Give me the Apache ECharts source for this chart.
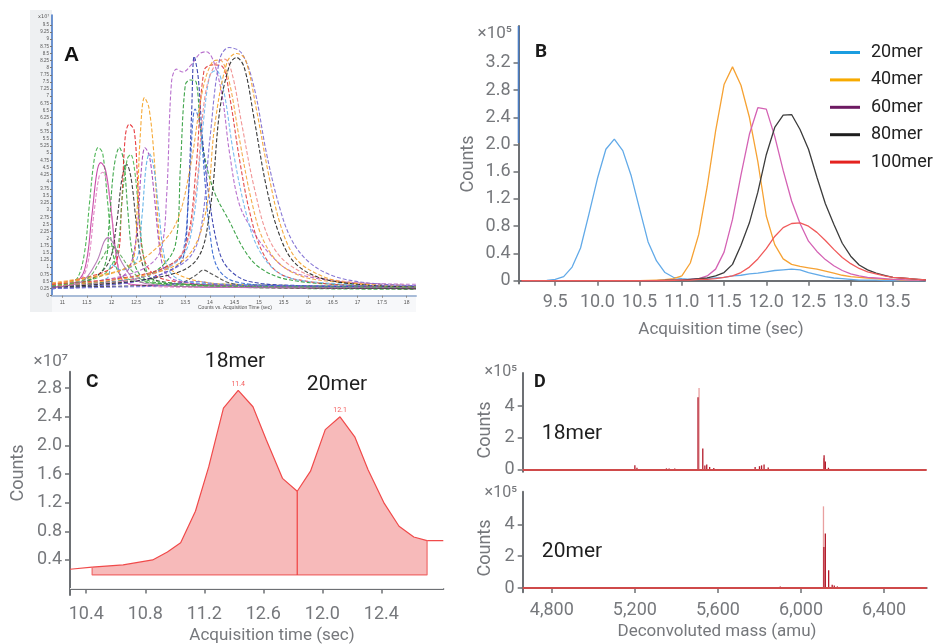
<!DOCTYPE html>
<html><head><meta charset="utf-8">
<script src="https://cdn.jsdelivr.net/npm/echarts@6/dist/echarts.min.js"></script>
<style>html,body{margin:0;padding:0;background:#fff}#c{width:933px;height:644px}</style>
</head><body><div id="c"></div>
<script>
// ---------- Panel A: overlaid chromatograms (x = time sec, y = counts x1e7) ----------
const aTicksX = [11,11.5,12,12.5,13,13.5,14,14.5,15,15.5,16,16.5,17,17.5,18];
const aTicksY = [0,0.25,0.5,0.75,1,1.25,1.5,1.75,2,2.25,2.5,2.75,3,3.25,3.5,3.75,4,4.25,4.5,4.75,5,5.25,5.5,5.75,6,6.25,6.5,6.75,7,7.25,7.5,7.75,8,8.25,8.5,8.75,9,9.25,9.5];
const a01 = [[10.79,0.35],[11.1,0.45],[11.3,0.6],[11.45,1.5],[11.55,3.2],[11.65,4.8],[11.73,5.2],[11.82,5.0],[11.92,3.3],[12.02,1.6],[12.15,0.8],[12.4,0.55],[12.8,0.45],[13.5,0.4],[14.5,0.3],[16,0.25],[18.19,0.22]];
const a02 = [[10.79,0.3],[11.2,0.4],[11.45,0.9],[11.6,2.8],[11.7,4.3],[11.78,4.67],[11.88,4.4],[11.98,3.2],[12.08,1.6],[12.2,0.6],[12.4,0.4],[13,0.35],[14,0.3],[18.19,0.25]];
const a03 = [[10.79,0.4],[11.3,0.5],[11.5,1.0],[11.65,3.0],[11.75,4.2],[11.82,4.33],[11.92,3.9],[12.02,2.6],[12.12,1.2],[12.25,0.5],[12.6,0.35],[13.5,0.3],[18.19,0.28]];
const a04 = [[10.79,0.3],[11.5,0.5],[11.85,1.0],[11.95,2.5],[12.05,4.5],[12.16,5.2],[12.25,4.7],[12.33,3.0],[12.42,1.5],[12.55,0.8],[12.8,0.5],[13.5,0.4],[18.19,0.3]];
const a05 = [[10.79,0.3],[11.6,0.6],[11.95,1.2],[12.1,2.5],[12.22,4.2],[12.31,4.6],[12.4,4.1],[12.5,2.6],[12.6,1.3],[12.75,0.7],[13,0.5],[14,0.35],[18.19,0.25]];
const a06 = [[10.79,0.4],[11.8,0.8],[12.1,1.2],[12.2,3.0],[12.28,5.6],[12.36,6.02],[12.46,5.8],[12.53,4.0],[12.58,2.3],[12.68,1.2],[12.9,0.7],[13.3,0.5],[14,0.4],[18.19,0.3]];
const a07 = [[10.79,0.35],[11.8,0.7],[12.1,1.5],[12.22,3.5],[12.32,4.8],[12.39,4.95],[12.47,4.4],[12.56,2.8],[12.66,1.3],[12.8,0.6],[13.2,0.45],[14,0.35],[18.19,0.3]];
const a08 = [[10.79,0.4],[11.5,0.6],[12.2,0.9],[12.45,1.3],[12.52,3.0],[12.58,5.5],[12.67,6.95],[12.76,6.6],[12.86,5.0],[12.95,2.5],[13.05,1.3],[13.3,0.8],[13.8,0.5],[14.5,0.4],[18.19,0.3]];
const a09 = [[10.79,0.3],[11.9,0.5],[12.3,0.8],[12.5,2.0],[12.6,4.3],[12.68,5.19],[12.77,4.9],[12.87,3.5],[12.97,1.8],[13.1,0.8],[13.4,0.5],[14.5,0.35],[18.19,0.3]];
const a10 = [[10.79,0.3],[11.9,0.6],[12.0,1.1],[12.2,0.9],[12.5,1.2],[12.62,2.8],[12.7,4.5],[12.77,4.99],[12.86,4.5],[12.96,3.0],[13.06,1.5],[13.2,0.8],[13.5,0.5],[14.5,0.4],[18.19,0.3]];
const a11 = [[10.79,0.3],[12.0,0.6],[12.7,1.0],[13.0,1.6],[13.12,3.5],[13.22,7.5],[13.32,7.95],[13.45,7.85],[13.62,8.1],[13.8,8.5],[13.93,8.56],[14.08,8.2],[14.25,7.0],[14.4,5.0],[14.6,3.2],[14.9,2.2],[15.2,1.5],[15.6,0.9],[16.2,0.6],[17,0.45],[18.19,0.4]];
const a12 = [[10.79,0.35],[12.5,0.6],[13.0,1.0],[13.3,1.8],[13.4,4.5],[13.5,7.4],[13.6,7.57],[13.72,7.5],[13.8,6.0],[13.9,4.8],[14.1,3.6],[14.4,2.6],[14.7,1.6],[15.0,1.0],[15.5,0.6],[16.5,0.4],[18.19,0.3]];
const a13 = [[10.79,0.25],[12.5,0.5],[13.2,0.9],[13.45,1.3],[13.55,3.0],[13.63,6.5],[13.68,8.4],[13.76,7.7],[13.85,5.5],[13.98,3.5],[14.15,1.8],[14.35,1.0],[14.8,0.5],[16,0.35],[18.19,0.3]];
const a14 = [[10.79,0.3],[12.5,0.6],[13.2,1.1],[13.45,1.5],[13.58,4.0],[13.7,6.55],[13.8,6.0],[13.9,4.0],[14.0,2.2],[14.15,1.0],[14.5,0.5],[15.5,0.35],[18.19,0.3]];
const a15 = [[10.79,0.4],[12.5,0.7],[13.3,1.2],[13.55,2.0],[13.72,4.5],[13.88,7.9],[14.05,8.1],[14.25,8.05],[14.4,7.0],[14.6,4.8],[14.8,3.0],[15.05,1.6],[15.4,0.8],[16,0.5],[17,0.35],[18.19,0.3]];
const a16 = [[10.79,0.3],[12.5,0.6],[13.4,1.3],[13.65,2.5],[13.85,5.8],[14.0,7.75],[14.13,7.9],[14.28,7.2],[14.48,5.0],[14.75,2.8],[15.0,1.6],[15.4,0.8],[16,0.5],[18.19,0.3]];
const a17 = [[10.79,0.45],[12.2,0.9],[12.8,1.5],[13.3,2.5],[13.6,4.5],[13.85,7.2],[14.05,8.2],[14.2,8.27],[14.38,7.6],[14.6,5.5],[14.85,3.3],[15.1,1.9],[15.5,1.0],[16.2,0.55],[18.19,0.35]];
const a18 = [[10.79,0.35],[12.5,0.6],[13.4,1.4],[13.7,3.5],[13.9,7.0],[14.1,8.1],[14.3,8.3],[14.45,7.8],[14.65,6.0],[14.9,3.8],[15.2,2.0],[15.6,1.1],[16.3,0.6],[18.19,0.35]];
const a19 = [[10.79,0.25],[12.5,0.5],[13.5,1.2],[13.8,2.2],[14.0,5.5],[14.2,8.3],[14.39,8.71],[14.65,8.5],[14.9,7.3],[15.15,5.0],[15.4,3.2],[15.65,2.0],[16.0,1.2],[16.5,0.7],[17.2,0.45],[18.19,0.35]];
const a20 = [[10.79,0.35],[12.6,0.7],[13.5,1.3],[13.9,2.8],[14.1,6.0],[14.35,8.2],[14.54,8.5],[14.72,8.3],[14.95,6.5],[15.2,4.2],[15.45,2.4],[15.75,1.3],[16.2,0.75],[16.8,0.45],[18.19,0.3]];
const a21 = [[10.79,0.3],[12.8,0.6],[13.7,1.2],[14.0,3.0],[14.2,6.5],[14.4,8.1],[14.54,8.36],[14.7,8.0],[14.9,6.2],[15.15,3.8],[15.4,2.2],[15.7,1.2],[16.2,0.65],[17,0.4],[18.19,0.3]];
const a22 = [[10.79,0.3],[12.5,0.35],[13.4,0.45],[13.7,0.7],[13.87,0.9],[14.05,0.75],[14.4,0.45],[15,0.3],[18.19,0.25]];
const a23 = [[10.79,0.3],[11.4,0.5],[11.7,1.2],[11.85,1.9],[11.93,2.04],[12.05,1.8],[12.2,1.2],[12.45,0.6],[12.8,0.4],[14,0.3],[18.19,0.28]];
const a24 = [[10.79,0.35],[11.5,0.6],[11.8,1.3],[12.0,1.75],[12.15,1.5],[12.4,0.9],[12.7,0.5],[13.5,0.35],[18.19,0.3]];
const a25 = [[10.79,0.25],[12.0,0.3],[13.0,0.35],[13.7,0.5],[14.2,0.4],[15,0.35],[18.19,0.35]];
const aCurves = [a01,a02,a03,a04,a05,a06,a07,a08,a09,a10,a11,a12,a13,a14,a15,a16,a17,a18,a19,a20,a21,a22,a23,a24,a25];
const aColors = ['#3cae45','#c2379f','#e07cc0','#2f9e3c','#333333','#e6262b','#4fb84f','#f5a020','#a040b8','#5aaee6','#b060c8','#2a9a36','#2a34a8','#3064d0','#e03838','#6cb6ee','#f2a43a','#f08a8a','#7a68d0','#f4a028','#222222','#444444','#b070b0','#58a858','#7070d8'];
const aSolid = [1,22];

// ---------- Panel B: extracted chromatograms (x1e5) ----------
const xB = [9.1,9.2,9.3,9.4,9.5,9.6,9.7,9.8,9.9,10.0,10.1,10.2,10.3,10.4,10.5,10.6,10.7,10.8,10.9,11.0,11.1,11.2,11.3,11.4,11.5,11.6,11.7,11.8,11.9,12.0,12.1,12.2,12.3,12.4,12.5,12.6,12.7,12.8,12.9,13.0,13.1,13.2,13.3,13.4,13.5,13.6,13.7,13.8,13.9];
const b20mer  = [0,0,0,0.005, 0.02,0.06,0.2,0.48,0.98,1.5, 1.93,2.08,1.91,1.54,1.05,0.57, 0.29,0.12,0.05,0.03,0.02,0.02, 0.03,0.04,0.05,0.07,0.08,0.1, 0.11,0.13,0.15,0.16,0.17,0.16, 0.12,0.09,0.06,0.04,0.03,0.02, 0.01,0.01,0.01,0,0,0, 0,0,0];
const b40mer  = [0,0,0,0, 0,0,0,0,0,0, 0,0,0,0,0,0.005, 0.01,0.015,0.03,0.07,0.26,0.68, 1.38,2.2,2.88,3.14,2.87,2.4, 1.75,0.95,0.53,0.32,0.24,0.21, 0.19,0.17,0.14,0.11,0.08,0.06, 0.05,0.04,0.03,0.02,0.02,0.01, 0.01,0.01,0.005];
const b60mer  = [0,0,0,0, 0,0,0,0,0,0, 0,0,0,0,0,0, 0,0.005,0.01,0.01,0.02,0.03, 0.07,0.17,0.42,0.9,1.55,2.15, 2.54,2.52,2.12,1.62,1.17,0.84, 0.58,0.43,0.31,0.22,0.15,0.1, 0.07,0.05,0.04,0.03,0.02,0.015, 0.01,0.01,0.005];
const b80mer  = [0,0,0,0, 0,0,0,0,0,0, 0,0,0,0,0,0, 0,0.005,0.01,0.01,0.02,0.03, 0.04,0.07,0.12,0.24,0.52,0.85, 1.3,1.85,2.25,2.43,2.44,2.22, 1.93,1.52,1.13,0.83,0.55,0.36, 0.23,0.16,0.11,0.08,0.05,0.04, 0.03,0.02,0.01];
const b100mer = [0,0,0,0, 0,0,0,0,0,0, 0,0,0,0,0,0, 0,0,0.005,0.01,0.01,0.02, 0.02,0.03,0.05,0.07,0.12,0.2, 0.32,0.47,0.65,0.78,0.84,0.85, 0.8,0.71,0.59,0.46,0.34,0.25, 0.18,0.13,0.1,0.07,0.05,0.04, 0.03,0.02,0.01];
const bNames = ['20mer','40mer','60mer','80mer','100mer'];
const bTicksX = [9.5,10.0,10.5,11.0,11.5,12.0,12.5,13.0,13.5];
const bTicksY = [0,0.4,0.8,1.2,1.6,2.0,2.4,2.8,3.2];

// ---------- Panel C: TIC with integrated peaks (x1e7) ----------
const cTime   = [10.44,10.65,10.85,10.95,11.04,11.14,11.23,11.33,11.43,11.53,11.62,11.73,11.83,11.92,12.02,12.12,12.22,12.31,12.42,12.52,12.62,12.71];
const cCounts = [0.30,0.33,0.40,0.51,0.64,1.08,1.70,2.52,2.77,2.54,2.08,1.54,1.36,1.64,2.22,2.40,2.12,1.66,1.19,0.87,0.72,0.67];
const cLeftTime = [10.29,10.44], cLeftCounts = [0.27,0.30];
const cRightTime = [12.71,12.82], cRightCounts = [0.67,0.67];
const cBaseline = 0.19;
const cValleyIndex = 12;
const cPeakIndex = [8,15];
const cPeakLabels = ['11.4','12.1'];
const cTickValues = [10.4,10.8,11.2,11.6,12.0,12.4];
const cTickLabels = ['10.4','10.8','11.2','12.6','12.0','12.4'];
const cTicksY = [0.4,0.8,1.2,1.6,2.0,2.4,2.8];

// ---------- Panel D: deconvoluted spectra (x1e5) ----------
const d18Mass = [5200,5210,5352,5365,5392,5504,5527,5537,5546,5560,5580,5779,5800,5810,5822,5842,6111,6117,6132];
const d18Int  = [0.26,0.1,0.06,0.05,0.05,4.57,1.32,0.25,0.3,0.15,0.08,0.15,0.2,0.25,0.3,0.12,0.89,0.5,0.1];
const d18LightMass = [5509,6109], d18LightInt = [5.15,0.7];
const d20Mass = [5900,5955,5975,5995,6060,6110,6117,6133,6150,6160,6175,6190,6425];
const d20Int  = [0.1,0.05,0.05,0.05,0.05,2.57,3.42,1.11,0.2,0.15,0.1,0.05,0.05];
const d20LightMass = [6108], d20LightInt = [5.13];
const dTicksX = [4800,5200,5600,6000,6400];
const dTicksY = [0,2,4];

// ---------- build ----------
const FONT = 'Roboto';
const GRAY = '#76787c';
const chart = echarts.init(document.getElementById('c'), null, {renderer:'canvas'});

const aSeries = aCurves.map((d,i)=>({
  type:'line', xAxisIndex:0, yAxisIndex:0, data:d, smooth:0.35, showSymbol:false, symbol:'none',
  lineStyle:{color:aColors[i], width:1.1, opacity:0.9, type: aSolid.includes(i) ? 'solid' : [4,2]}, silent:true
}));
const bColors = ['#62aae8','#f6a233','#d462b4','#3c3c3c','#f05a5a'];
const bLegendColors = ['#1b9de0','#f7aa00','#6d1a62','#1e1e1e','#e4221f'];
const bSeriesData = [b20mer,b40mer,b60mer,b80mer,b100mer];
const bSeries = bSeriesData.map((arr,i)=>({
  type:'line', name:bNames[i], xAxisIndex:1, yAxisIndex:1, data: xB.map((x,k)=>[x,arr[k]]),
  showSymbol:false, symbol:'none', lineStyle:{color:bColors[i], width:1.3}, itemStyle:{color:bLegendColors[i]}
}));

const last = cTime.length-1;
const cSeries = [
  {type:'line', xAxisIndex:2, yAxisIndex:2, data: cTime.map((t,i)=>[t,cCounts[i]]), showSymbol:false, symbol:'none',
   lineStyle:{color:'#f04a4a', width:1.2}, areaStyle:{color:'#f7baba', opacity:1, origin:cBaseline}, z:3},
  {type:'line', xAxisIndex:2, yAxisIndex:2, data: cLeftTime.map((t,i)=>[t,cLeftCounts[i]]), showSymbol:false, symbol:'none',
   lineStyle:{color:'#f04a4a', width:1.2},
   markLine:{silent:true, symbol:'none', label:{show:false}, lineStyle:{color:'#ececec', width:1, type:'solid'}, data:[{yAxis:0}]}},
  {type:'line', xAxisIndex:2, yAxisIndex:2, data: cRightTime.map((t,i)=>[t,cRightCounts[i]]), showSymbol:false, symbol:'none',
   lineStyle:{color:'#f04a4a', width:1.2}},
  {type:'line', xAxisIndex:2, yAxisIndex:2, data: [[cTime[0],cCounts[0]],[cTime[0],cBaseline],[cTime[last],cBaseline],[cTime[last],cCounts[last]]],
   showSymbol:false, symbol:'none', lineStyle:{color:'#f06a6a', width:1.2}, z:4},
  {type:'line', xAxisIndex:2, yAxisIndex:2, data: [[cTime[cValleyIndex],cCounts[cValleyIndex]],[cTime[cValleyIndex],cBaseline]],
   showSymbol:false, symbol:'none', lineStyle:{color:'#f04040', width:1.2}, z:4},
  {type:'scatter', xAxisIndex:2, yAxisIndex:2, symbolSize:0,
   data: cPeakIndex.map((k,j)=>({value:[cTime[k],cCounts[k]], label:{show:true, formatter:cPeakLabels[j]}})),
   label:{position:'top', distance:3, color:'#f03030', fontSize:7, fontFamily:FONT}, z:5}
];

const dSeries = [
  {type:'bar', xAxisIndex:3, yAxisIndex:3, data:d18LightMass.map((m,i)=>[m,d18LightInt[i]]), barWidth:1.3, barGap:'-100%', itemStyle:{color:'#e9a0a0'}},
  {type:'bar', xAxisIndex:3, yAxisIndex:3, data:d18Mass.map((m,i)=>[m,d18Int[i]]), barWidth:1.3, barGap:'-100%', itemStyle:{color:'#b31b2b'},
   markLine:{silent:true, symbol:'none', label:{show:false}, lineStyle:{color:'#cf4a4a', width:1.8, type:'solid'}, data:[{yAxis:0}]}},
  {type:'bar', xAxisIndex:4, yAxisIndex:4, data:d20LightMass.map((m,i)=>[m,d20LightInt[i]]), barWidth:1.3, barGap:'-100%', itemStyle:{color:'#e9a0a0'}},
  {type:'bar', xAxisIndex:4, yAxisIndex:4, data:d20Mass.map((m,i)=>[m,d20Int[i]]), barWidth:1.3, barGap:'-100%', itemStyle:{color:'#b31b2b'},
   markLine:{silent:true, symbol:'none', label:{show:false}, lineStyle:{color:'#cf4a4a', width:1.8, type:'solid'}, data:[{yAxis:0}]}}
];

function numAxisLabel(vals, fmt, size, extra){
  return Object.assign({customValues:vals, formatter:fmt, fontSize:size, color:GRAY, fontFamily:FONT}, extra||{});
}
const grayLine = {lineStyle:{color:'#6d7074', width:2}};

const option = {
  animation:false,
  backgroundColor:'#ffffff',
  grid:[
    {left:52, top:15, right:517, bottom:348, containLabel:false},
    {left:518.5, top:26, right:8, bottom:360.5, containLabel:false},
    {left:70, top:371.7, right:489.7, bottom:49, containLabel:false},
    {left:522.7, top:373, right:6.3, bottom:172.3, containLabel:false},
    {left:522.7, top:491.7, right:6.3, bottom:51.7, containLabel:false}
  ],
  legend:{
    orient:'vertical', left:825, top:38.5, itemWidth:30, itemHeight:3, icon:'rect', itemGap:9.4,
    data: bNames.map((n,i)=>({name:n, itemStyle:{color:bLegendColors[i]}})),
    textStyle:{fontSize:18, color:'#222', fontFamily:FONT, lineHeight:18, padding:[0,0,0,6]}
  },
  xAxis:[
    {gridIndex:0, type:'value', min:10.79, max:18.19,
     axisLine:{lineStyle:{color:'#a8bcd8', width:2}},
     axisTick:{customValues:aTicksX, length:2, lineStyle:{color:'#888'}},
     axisLabel:{customValues:aTicksX, formatter:v=>String(v), fontSize:5, color:'#555', margin:4, fontFamily:'Liberation Sans'},
     splitLine:{show:false}},
    {gridIndex:1, type:'value', min:9.065, max:13.88,
     axisLine:grayLine,
     axisTick:{customValues:bTicksX, length:5, lineStyle:{color:'#6d7074', width:1.5}},
     axisLabel:numAxisLabel(bTicksX, v=>v.toFixed(1), 18, {margin:10}),
     splitLine:{show:false}},
    {gridIndex:2, type:'value', min:10.29, max:12.82,
     axisLine:grayLine,
     axisTick:{customValues:cTickValues, length:5, lineStyle:{color:'#6d7074', width:1.5}},
     axisLabel:numAxisLabel(cTickValues, v=>{const k=cTickValues.findIndex(t=>Math.abs(t-v)<1e-6); return k>=0?cTickLabels[k]:'';}, 18, {margin:10}),
     splitLine:{show:false}},
    {gridIndex:3, type:'value', min:4660, max:6605,
     axisLine:{lineStyle:{color:'#e4e4e4', width:1}}, axisTick:{show:false}, axisLabel:{show:false}, splitLine:{show:false}},
    {gridIndex:4, type:'value', min:4660, max:6605,
     axisLine:grayLine,
     axisTick:{customValues:dTicksX, length:5, lineStyle:{color:'#6d7074', width:1.5}},
     axisLabel:numAxisLabel(dTicksX, v=>v.toLocaleString('en-US'), 18, {margin:9}),
     splitLine:{show:false}}
  ],
  yAxis:[
    {gridIndex:0, type:'value', min:-0.01, max:9.85,
     axisLine:{show:true, lineStyle:{color:'#3e72c2', width:1.5}},
     axisTick:{show:true, customValues:aTicksY, length:2, lineStyle:{color:'#777'}},
     axisLabel:{customValues:aTicksY, formatter:v=>String(v), fontSize:4.5, color:'#555', margin:3, fontFamily:'Liberation Sans'},
     splitLine:{show:false}},
    {gridIndex:1, type:'value', min:-0.041, max:3.74,
     axisLine:Object.assign({show:true}, grayLine),
     axisTick:{show:true, customValues:bTicksY, length:5, lineStyle:{color:'#6d7074', width:1.5}},
     axisLabel:numAxisLabel(bTicksY, v=>v===0?'0':v.toFixed(1), 18, {margin:8}),
     splitLine:{show:false}},
    {gridIndex:2, type:'value', min:-0.09, max:3.03,
     axisLine:Object.assign({show:true}, grayLine),
     axisTick:{show:true, customValues:cTicksY, length:5, lineStyle:{color:'#6d7074', width:1.5}},
     axisLabel:numAxisLabel(cTicksY, v=>v.toFixed(1), 18, {margin:8}),
     splitLine:{show:false}},
    {gridIndex:3, type:'value', min:-0.15, max:6.1,
     axisLine:Object.assign({show:true}, grayLine),
     axisTick:{show:true, customValues:dTicksY, length:5, lineStyle:{color:'#6d7074', width:1.5}},
     axisLabel:numAxisLabel(dTicksY, v=>String(v), 18, {margin:8}),
     splitLine:{show:false}},
    {gridIndex:4, type:'value', min:-0.27, max:6.05,
     axisLine:Object.assign({show:true}, grayLine),
     axisTick:{show:true, customValues:dTicksY, length:5, lineStyle:{color:'#6d7074', width:1.5}},
     axisLabel:numAxisLabel(dTicksY, v=>String(v), 18, {margin:8}),
     splitLine:{show:false}}
  ],
  graphic:[
    {type:'rect', z:-10, shape:{x:30, y:10, width:22, height:302}, style:{fill:'#eef0f2'}},
    {type:'rect', z:-10, shape:{x:52, y:297, width:364, height:15}, style:{fill:'#f7f8fa'}},
    {type:'text', x:38, y:14, style:{text:'x10\u2077', font:'5px DejaVu Sans', fill:'#555'}},
    {type:'text', x:64, y:45, style:{text:'A', font:'bold 21px Liberation Sans', fill:'#111'}},
    {type:'text', x:235, y:305, style:{text:'Counts vs. Acquisition Time (sec)', font:'5px Liberation Sans', fill:'#555', align:'center'}},
    {type:'line', z:20, shape:{x1:518.5, y1:26, x2:518.5, y2:143}, style:{stroke:'#4a7dc4', lineWidth:1.6}},
    {type:'text', x:535, y:43, style:{text:'B', font:'bold 19px Roboto', fill:'#1a1a1a'}},
    {type:'text', x:512, y:34, style:{text:'\u00d710\u2075', font:'17px Roboto', fill:GRAY, align:'right', verticalAlign:'middle'}},
    {type:'text', x:468, y:164, rotation:Math.PI/2, style:{text:'Counts', font:'18px Roboto', fill:GRAY, align:'center', verticalAlign:'middle'}},
    {type:'text', x:721, y:330, style:{text:'Acquisition time (sec)', font:'17px Roboto', fill:GRAY, align:'center', verticalAlign:'middle'}},
    {type:'text', x:86, y:373, style:{text:'C', font:'bold 19px Roboto', fill:'#1a1a1a'}},
    {type:'text', x:68, y:362, style:{text:'\u00d710\u2077', font:'17px Roboto', fill:GRAY, align:'right', verticalAlign:'middle'}},
    {type:'text', x:18, y:473, rotation:Math.PI/2, style:{text:'Counts', font:'18px Roboto', fill:GRAY, align:'center', verticalAlign:'middle'}},
    {type:'text', x:272, y:636, style:{text:'Acquisition time (sec)', font:'17px Roboto', fill:GRAY, align:'center', verticalAlign:'middle'}},
    {type:'text', x:235, y:362, style:{text:'18mer', font:'21px Roboto', fill:'#1e1e1e', align:'center', verticalAlign:'middle'}},
    {type:'text', x:337, y:385, style:{text:'20mer', font:'21px Roboto', fill:'#1e1e1e', align:'center', verticalAlign:'middle'}},
    {type:'text', x:534, y:373, style:{text:'D', font:'bold 18px Roboto', fill:'#1a1a1a'}},
    {type:'text', x:517, y:372, style:{text:'\u00d710\u2075', font:'16px Roboto', fill:GRAY, align:'right', verticalAlign:'middle'}},
    {type:'text', x:517, y:493, style:{text:'\u00d710\u2075', font:'16px Roboto', fill:GRAY, align:'right', verticalAlign:'middle'}},
    {type:'text', x:485, y:430, rotation:Math.PI/2, style:{text:'Counts', font:'18px Roboto', fill:GRAY, align:'center', verticalAlign:'middle'}},
    {type:'text', x:485, y:548, rotation:Math.PI/2, style:{text:'Counts', font:'18px Roboto', fill:GRAY, align:'center', verticalAlign:'middle'}},
    {type:'text', x:572, y:434, style:{text:'18mer', font:'21px Roboto', fill:'#1e1e1e', align:'center', verticalAlign:'middle'}},
    {type:'text', x:572, y:552, style:{text:'20mer', font:'21px Roboto', fill:'#1e1e1e', align:'center', verticalAlign:'middle'}},
    {type:'text', x:717, y:632, style:{text:'Deconvoluted mass (amu)', font:'17px Roboto', fill:GRAY, align:'center', verticalAlign:'middle'}}
  ],
  series:[].concat(aSeries, bSeries, cSeries, dSeries)
};
chart.setOption(option);
</script></body></html>
